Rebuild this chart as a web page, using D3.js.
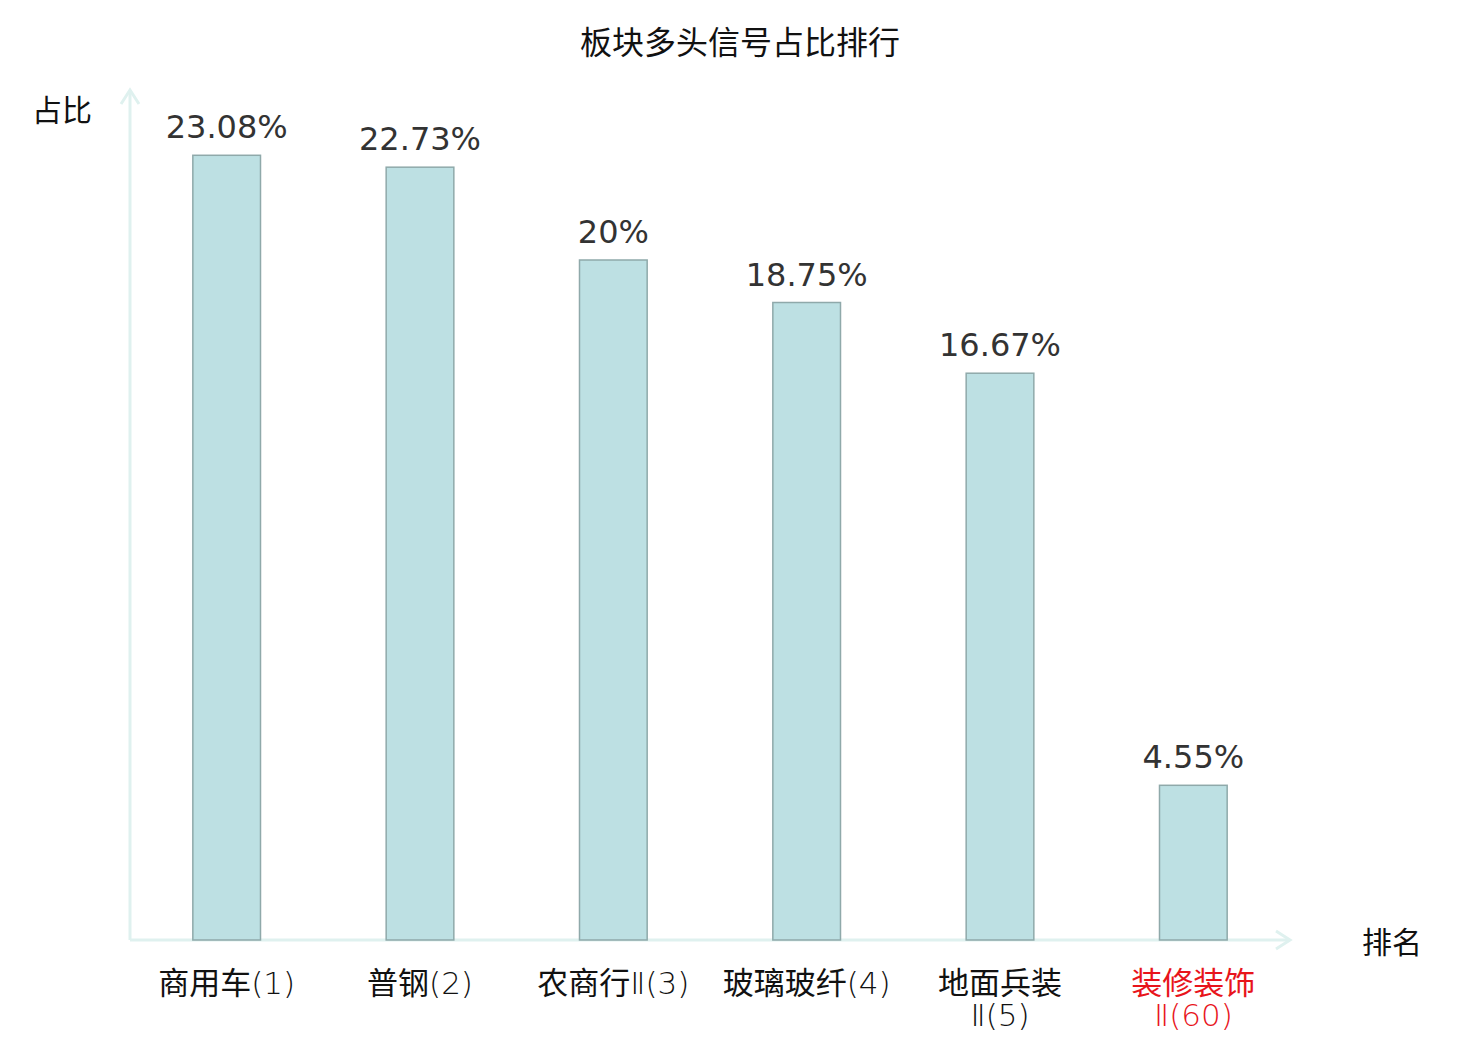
<!DOCTYPE html>
<html>
<head>
<meta charset="utf-8">
<script src="https://cdn.jsdelivr.net/npm/d3@7"></script>
<style>
  html, body { margin: 0; padding: 0; background: #fff; }
  svg text { font-family: "Noto Sans CJK SC", "DejaVu Sans", sans-serif; }
  .value { font-family: "DejaVu Sans", sans-serif; font-size: 32px; fill: #333; }
  .cat { font-family: "Noto Sans CJK SC", sans-serif; font-size: 31px; fill: #111; }
  .cat .latin { font-family: "DejaVu Sans", sans-serif; font-weight: 200; }
</style>
</head>
<body>
<svg id="chart" width="1480" height="1040"></svg>
<script>
// chart data
const categories = ['商用车(1)', '普钢(2)', '农商行Ⅱ(3)', '玻璃玻纤(4)', '地面兵装Ⅱ(5)', '装修装饰Ⅱ(60)'];
const shares = [23.08, 22.73, 20, 18.75, 16.67, 4.55];
const valueLabels = ['23.08%', '22.73%', '20%', '18.75%', '16.67%', '4.55%'];
const highlighted = ['装修装饰Ⅱ(60)'];

const W = 1480, H = 1040;
const plotLeft = 130, plotRight = 1290, plotBase = 940, plotTop = 90;

const svg = d3.select('#chart');

const x = d3.scaleBand()
  .domain(categories)
  .range([plotLeft, plotRight])
  .paddingInner(0.65)
  .paddingOuter(0.325);

const y = d3.scaleLinear()
  .domain([0, 25])
  .range([plotBase, plotTop]);

// title
svg.append('text')
  .attr('x', W / 2).attr('y', 54)
  .attr('text-anchor', 'middle')
  .style('font-size', '32px').style('fill', '#111')
  .text('板块多头信号占比排行');

// axes with open arrows
const axisColor = '#dff1ef';
svg.append('line')
  .attr('x1', plotLeft).attr('y1', plotBase).attr('x2', plotLeft).attr('y2', plotTop)
  .attr('stroke', axisColor).attr('stroke-width', 3);
svg.append('path')
  .attr('d', `M${plotLeft - 9},${plotTop + 14} L${plotLeft},${plotTop} L${plotLeft + 9},${plotTop + 14}`)
  .attr('fill', 'none').attr('stroke', axisColor).attr('stroke-width', 3);

svg.append('line')
  .attr('x1', plotLeft).attr('y1', plotBase).attr('x2', plotRight).attr('y2', plotBase)
  .attr('stroke', axisColor).attr('stroke-width', 3);
svg.append('path')
  .attr('d', `M${plotRight - 14},${plotBase - 9} L${plotRight},${plotBase} L${plotRight - 14},${plotBase + 9}`)
  .attr('fill', 'none').attr('stroke', axisColor).attr('stroke-width', 3);

// axis names
svg.append('text')
  .attr('x', 92).attr('y', 121)
  .attr('text-anchor', 'end')
  .style('font-size', '30px').style('fill', '#111')
  .text('占比');
svg.append('text')
  .attr('x', 1362).attr('y', 953)
  .style('font-size', '30px').style('fill', '#111')
  .text('排名');

// bars
svg.append('g').selectAll('rect')
  .data(categories)
  .join('rect')
  .attr('x', d => x(d))
  .attr('y', (d, i) => y(shares[i]))
  .attr('width', x.bandwidth())
  .attr('height', (d, i) => y(0) - y(shares[i]))
  .attr('fill', '#bde0e3')
  .attr('stroke', '#8fa9aa')
  .attr('stroke-width', 1.5);

// value labels
svg.append('g').selectAll('text')
  .data(categories)
  .join('text')
  .attr('class', 'value')
  .attr('x', d => x(d) + x.bandwidth() / 2)
  .attr('y', (d, i) => y(shares[i]) - 17)
  .attr('text-anchor', 'middle')
  .text((d, i) => valueLabels[i]);

// category labels: CJK chars break anywhere, latin runs stay whole
const isCJK = s => /[\u4e00-\u9fff]/.test(s);
const maxW = x.step() - 16;
const cats = svg.append('g').selectAll('text')
  .data(categories)
  .join('text')
  .attr('class', 'cat')
  .attr('text-anchor', 'middle')
  .attr('y', 994)
  .style('fill', d => highlighted.includes(d) ? '#e8141b' : '#111');

cats.each(function (d) {
  const t = d3.select(this);
  const cx = x(d) + x.bandwidth() / 2;
  const tokens = d.match(/[\u4e00-\u9fff]|[^\u4e00-\u9fff]+/g);
  let line = [];
  const lines = [];
  const probe = t.append('tspan').attr('class', 'latin');
  tokens.forEach(tok => {
    probe.text(line.join('') + tok);
    if (probe.node().getComputedTextLength() > maxW && line.length) {
      lines.push(line);
      line = [tok];
    } else {
      line.push(tok);
    }
  });
  lines.push(line);
  probe.remove();
  lines.forEach((toks, i) => {
    // merge neighbouring tokens of the same script into one run
    const runs = [];
    toks.forEach(tok => {
      const last = runs[runs.length - 1];
      if (last && isCJK(last) === isCJK(tok)) runs[runs.length - 1] = last + tok;
      else runs.push(tok);
    });
    runs.forEach((r, j) => {
      const ts = t.append('tspan').text(r);
      if (!isCJK(r)) ts.attr('class', 'latin');
      if (j === 0) ts.attr('x', cx).attr('dy', i ? 32 : 0);
    });
  });
});
</script>
</body>
</html>
